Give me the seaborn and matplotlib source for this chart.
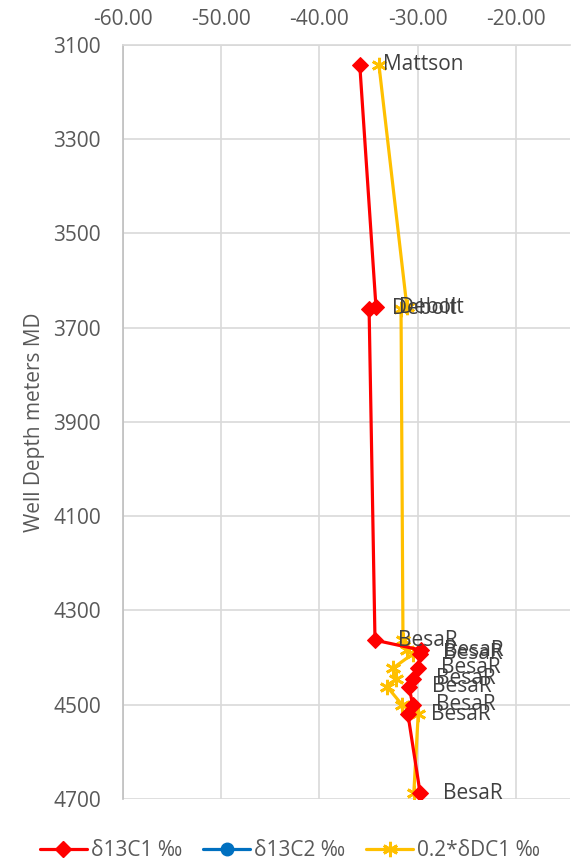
import matplotlib
matplotlib.use("Agg")
import matplotlib.pyplot as plt
import seaborn as sns
import numpy as np
import pandas as pd
from matplotlib.lines import Line2D

# data
sample = ["Mattson", "Debolt", "Debolt", "BesaR", "BesaR", "BesaR", "BesaR",
          "BesaR", "BesaR", "BesaR", "BesaR", "BesaR"]
depth = [3142, 3656, 3660, 4363, 4384, 4392, 4422, 4445, 4462, 4500, 4520, 4688]
d13c1 = [-35.9, -34.25, -34.95, -34.35, -29.65, -29.75, -29.95, -30.5, -30.9,
         -30.5, -31.0, -29.75]
d13c2 = [np.nan] * 12
dd_c1 = [-33.95, -31.1, -31.7, -31.5, -31.1, -30.5, -32.5, -32.2, -33.1,
         -31.6, -29.95, -30.4]

df = pd.DataFrame({"sample": sample, "depth": depth, "c1": d13c1,
                   "c2": d13c2, "dd": dd_c1})

sns.set_theme(style="white")
plt.rcParams["font.family"] = ["Open Sans", "DejaVu Sans"]

RED = "#FF0000"
BLUE = "#0070C0"
YEL = "#FFC000"
GREY = "#595959"
FS = 15

fig = plt.figure(figsize=(5.87, 8.67), dpi=100)
ax = fig.add_axes([123 / 587, 1 - 799 / 867, (570 - 123) / 587, (799 - 45) / 867])

star = (6, 2, 0)
sns.lineplot(data=df, x="dd", y="depth", sort=False, estimator=None, ax=ax,
             color=YEL, lw=2.3, marker=star, markersize=11, mew=2,
             mec=YEL, zorder=3)
sns.lineplot(data=df, x="c1", y="depth", sort=False, estimator=None, ax=ax,
             color=RED, lw=2.3, marker="D", markersize=8, mec=RED, zorder=4)
ax.plot(df["c2"], df["depth"], color=BLUE, lw=2.3, marker="o")

# data labels sit to the right of the red points
for _, r in df.iterrows():
    ax.annotate(r["sample"], (r["c1"], r["depth"]), xytext=(16.5, 0),
                textcoords="offset points", ha="left", va="center",
                fontsize=FS, color="#404040", zorder=5)

ax.set_xlim(-60, -14.5)
ax.set_ylim(4700, 3100)
ax.set_xticks([-60, -50, -40, -30, -20])
ax.set_xticklabels([f"{v:.2f}" for v in [-60, -50, -40, -30, -20]])
ax.set_yticks(range(3100, 4701, 200))
ax.xaxis.tick_top()
ax.tick_params(axis="x", length=0, pad=11, labelsize=FS, colors=GREY)
ax.tick_params(axis="y", length=0, pad=16, labelsize=FS, colors=GREY)
ax.grid(True, color="#D9D9D9", lw=1.2)
ax.set_axisbelow(True)
for s in ["right", "bottom"]:
    ax.spines[s].set_visible(False)
ax.spines["top"].set_color("#D9D9D9")
ax.spines["left"].set_color("#BFBFBF")
ax.spines["left"].set_linewidth(1.2)
ax.set_xlabel("")
ax.set_ylabel("Well Depth meters MD", fontsize=FS, color=GREY, labelpad=6)

handles = [
    Line2D([], [], color=RED, lw=2.3, marker="D", markersize=8),
    Line2D([], [], color=BLUE, lw=2.3, marker="o", markersize=9),
    Line2D([], [], color=YEL, lw=2.3, marker=star, markersize=11, mew=2),
]
labels = ["δ13C1 ‰", "δ13C2 ‰", "0.2*δDC1 ‰"]
fig.legend(handles, labels, loc="center left", bbox_to_anchor=(40 / 587, 0.0185),
           ncol=3, frameon=False, fontsize=FS, labelcolor=GREY,
           borderpad=0, borderaxespad=0,
           handlelength=2.25, handletextpad=0.2, columnspacing=1.0)

fig.savefig("out.png", dpi=100)
